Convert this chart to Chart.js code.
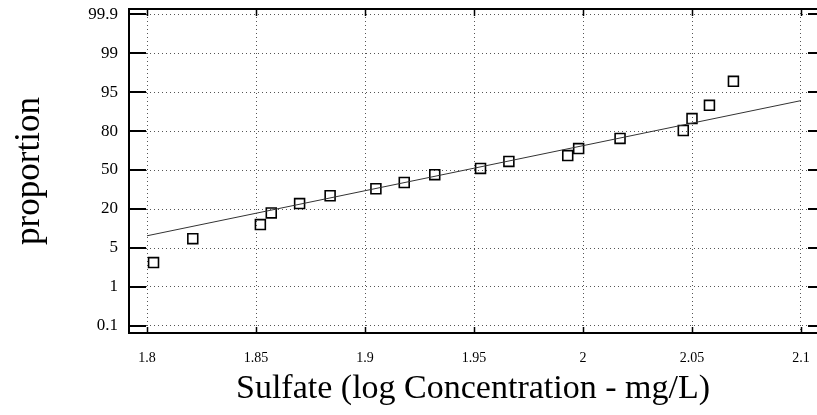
<!DOCTYPE html>
<html>
<head>
<meta charset="utf-8">
<script src="https://cdn.jsdelivr.net/npm/chart.js@4/dist/chart.umd.min.js"></script>
<style>
  html, body { margin: 0; padding: 0; background: #ffffff; }
  #wrap { width: 817px; height: 415px; }
</style>
</head>
<body>
<div id="wrap"><canvas id="c" width="817" height="415"></canvas></div>
<script>
// ---- data ----
const sulfateLog    = [1.803, 1.821, 1.852, 1.857, 1.870, 1.884, 1.905, 1.918, 1.932, 1.953, 1.966, 1.993, 1.998, 2.017, 2.046, 2.050, 2.058, 2.069];
const proportionPct = [3.5, 8.6, 14.0, 18.5, 24.2, 30.2, 35.6, 40.4, 46.4, 51.2, 56.6, 61.1, 66.5, 74.3, 80.2, 84.8, 89.9, 96.1];
const fitLog        = [1.8, 2.1];
const fitPct        = [9.7, 91.7];
const yTickLabels   = [0.1, 1, 5, 20, 50, 80, 95, 99, 99.9];
const xTickValues   = [1.8, 1.85, 1.9, 1.95, 2, 2.05, 2.1];
const xTitle = 'Sulfate (log Concentration - mg/L)';
const yTitle = 'proportion';

// probability axis: tick labels equally spaced, values placed between them
function pctToPos(p) {
  for (let i = 0; i < yTickLabels.length - 1; i++) {
    const a = yTickLabels[i], b = yTickLabels[i + 1];
    if (p <= b || i === yTickLabels.length - 2) return i + (p - a) / (b - a);
  }
  return 0;
}

const points = sulfateLog.map((x, i) => ({ x: x, y: pctToPos(proportionPct[i]) }));
const fitLine = fitLog.map((x, i) => ({ x: x, y: pctToPos(fitPct[i]) }));

const serif = '"Liberation Serif", "Times New Roman", serif';

const frame = {
  id: 'frame',
  afterDraw(chart) {
    const { ctx, chartArea: a, scales } = chart;
    ctx.save();
    ctx.strokeStyle = '#000';
    ctx.lineWidth = 2;
    ctx.beginPath();
    ctx.moveTo(a.left - 1, a.top);
    ctx.lineTo(a.right, a.top);
    ctx.stroke();
    // y tick marks (left long, right short)
    scales.y.ticks.forEach(t => {
      const y = Math.round(scales.y.getPixelForValue(t.value));
      ctx.beginPath();
      ctx.moveTo(a.left, y); ctx.lineTo(a.left + 17, y);
      ctx.moveTo(a.right - 9, y); ctx.lineTo(a.right, y);
      ctx.stroke();
    });
    // x tick marks
    ctx.lineWidth = 1.5;
    scales.x.ticks.forEach(t => {
      const x = Math.round(scales.x.getPixelForValue(t.value)) + 0.5;
      ctx.beginPath();
      ctx.moveTo(x, a.bottom); ctx.lineTo(x, a.bottom - 6);
      ctx.moveTo(x, a.top); ctx.lineTo(x, a.top + 7);
      ctx.stroke();
    });
    ctx.restore();
  }
};

new Chart(document.getElementById('c'), {
  type: 'scatter',
  data: {
    datasets: [
      {
        label: 'fit',
        data: fitLine,
        showLine: true,
        borderColor: '#333',
        borderWidth: 1,
        pointRadius: 0,
        fill: false
      },
      {
        label: 'Sulfate',
        data: points,
        pointStyle: 'rect',
        pointRadius: 7,
        pointBorderWidth: 1.6,
        pointBorderColor: '#000',
        pointBackgroundColor: 'rgba(0,0,0,0)',
        showLine: false
      }
    ]
  },
  options: {
    responsive: false,
    animation: false,
    layout: { autoPadding: false, padding: { top: 9, right: 0, left: 0, bottom: 0 } },
    plugins: { legend: { display: false }, tooltip: { enabled: false } },
    scales: {
      x: {
        type: 'linear',
        min: 1.79174,
        max: 2.10734,
        afterBuildTicks: s => { s.ticks = xTickValues.map(v => ({ value: v })); },
        afterFit: s => { s.height = 82; s.paddingLeft = 0; s.paddingRight = 0; },
        ticks: {
          callback: v => String(v),
          color: '#000',
          font: { family: serif, size: 14 },
          padding: 17,
          maxRotation: 0,
          autoSkip: false
        },
        grid: { color: '#555', lineWidth: 1, drawTicks: false },
        border: { display: true, color: '#000', width: 2, dash: [1, 3] },
        title: {
          display: true,
          text: xTitle,
          color: '#000',
          font: { family: serif, size: 34 },
          padding: { top: 0, bottom: 6 }
        }
      },
      y: {
        type: 'linear',
        min: -0.18,
        max: 8.13,
        afterBuildTicks: s => { s.ticks = yTickLabels.map((v, i) => ({ value: i })); },
        afterFit: s => { s.width = 129; s.paddingTop = 0; s.paddingBottom = 0; },
        ticks: {
          callback: v => String(yTickLabels[v]),
          color: '#000',
          font: { family: serif, size: 17 },
          padding: 11,
          autoSkip: false
        },
        grid: { color: '#555', lineWidth: 1, drawTicks: false },
        border: { display: true, color: '#000', width: 2, dash: [1, 3] },
        title: {
          display: true,
          text: yTitle,
          color: '#000',
          font: { family: serif, size: 35 },
          padding: { top: 9, bottom: 0 }
        }
      }
    }
  },
  plugins: [frame]
});
</script>
</body>
</html>
